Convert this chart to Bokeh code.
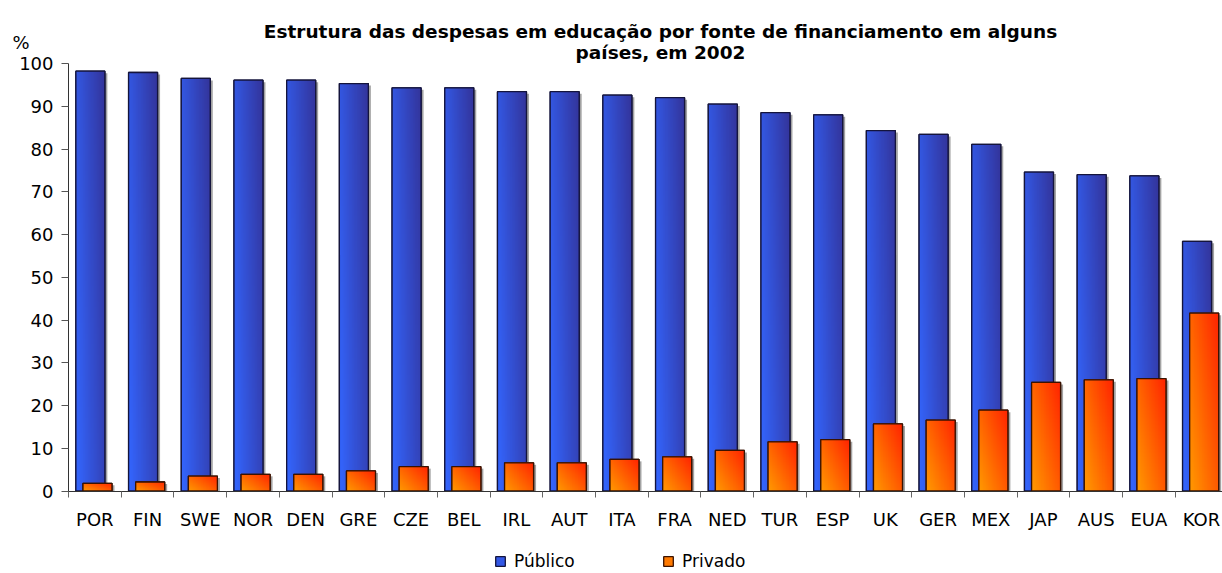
import numpy as np
from bokeh.plotting import figure
from bokeh.models import (Range1d, FixedTicker, Label, Legend, LegendItem,
                          ColumnDataSource)
from bokeh.embed import file_html
from bokeh.resources import INLINE

# ---------------- data ----------------
countries = ["POR", "FIN", "SWE", "NOR", "DEN", "GRE", "CZE", "BEL", "IRL", "AUT",
             "ITA", "FRA", "NED", "TUR", "ESP", "UK", "GER", "MEX", "JAP", "AUS",
             "EUA", "KOR"]
publico = [98.2, 97.9, 96.5, 96.1, 96.1, 95.3, 94.3, 94.3, 93.4, 93.4,
           92.6, 92.0, 90.5, 88.5, 88.0, 84.3, 83.4, 81.1, 74.6, 74.0,
           73.7, 58.4]
privado = [1.8, 2.1, 3.5, 3.9, 3.9, 4.7, 5.7, 5.7, 6.6, 6.6,
           7.4, 8.0, 9.5, 11.5, 12.0, 15.7, 16.6, 18.9, 25.4, 26.0,
           26.3, 41.6]
y_ticks = [0, 10, 20, 30, 40, 50, 60, 70, 80, 90, 100]
title_lines = ["Estrutura das despesas em educação por fonte de financiamento em alguns",
               "países, em 2002"]
series_names = ["Público", "Privado"]
unit_label = "%"

# ---------------- layout constants (pixels) ----------------
W, H = 1222, 573
AX_X = 68.0      # y-axis position on canvas
AX_Y = 490.5     # x-axis position on canvas
CAT_PX = 52.7    # width of one category
VAL_PX = 4.275   # pixels per percentage point

FONT = "DejaVu Sans"


def gradient(c0, c1, wu, wv, rows=80, cols=40):
    v = np.linspace(0, 1, rows)[:, None]
    u = np.linspace(0, 1, cols)[None, :]
    t = wu * u + wv * v
    img = np.empty((rows, cols), dtype=np.uint32)
    view = img.view(dtype=np.uint8).reshape((rows, cols, 4))
    for k in range(3):
        view[:, :, k] = np.round(c0[k] + (c1[k] - c0[k]) * t).astype(np.uint8)
    view[:, :, 3] = 255
    return img


grad_blue = gradient((51, 102, 255), (51, 51, 153), 0.7, 0.3)
grad_orange = gradient((255, 153, 0), (255, 34, 0), 0.55, 0.45)

n = len(countries)
BAR_W = 0.55
blue_off = 0.14
orange_off = 0.275
shadow_dx = 2.5 / CAT_PX
shadow_dy = 2.0 / VAL_PX

x_range = Range1d(-AX_X / CAT_PX, (W - AX_X) / CAT_PX)
y_range = Range1d(-(H - AX_Y) / VAL_PX, AX_Y / VAL_PX)

p = figure(width=W, height=H, output_backend="svg", toolbar_location=None,
           x_range=x_range, y_range=y_range, min_border=0)
p.outline_line_color = None
p.xgrid.visible = False
p.ygrid.visible = False
p.background_fill_color = "white"
p.border_fill_color = "white"


def draw_series(values, off, grad, solid, line_color):
    left = [i + off for i in range(n)]
    right = [l + BAR_W for l in left]
    # drop shadow
    p.quad(left=[l + shadow_dx for l in left], right=[r + shadow_dx for r in right],
           bottom=[0] * n, top=[max(v - shadow_dy, 0) for v in values],
           fill_color="#a3a3a3", line_color=None)
    # solid base (also used as the legend swatch)
    base = p.quad(left=left, right=right, bottom=[0] * n, top=values,
                  fill_color=solid, line_color=line_color, line_width=1.3)
    src = ColumnDataSource(dict(image=[grad] * n, x=left, y=[0] * n,
                                dw=[BAR_W] * n, dh=values))
    p.image_rgba(image="image", x="x", y="y", dw="dw", dh="dh", source=src)
    p.quad(left=left, right=right, bottom=[0] * n, top=values,
           fill_color=None, line_color=line_color, line_width=1.3)
    return base


rb = draw_series(publico, blue_off, grad_blue, "#3358e6", "#14143c")
ro = draw_series(privado, orange_off, grad_orange, "#ff7a00", "#3a1200")

legend = Legend(items=[LegendItem(label=series_names[0], renderers=[rb], index=0),
                       LegendItem(label=series_names[1], renderers=[ro], index=0)],
                orientation="horizontal", location=(494, 2), padding=0, margin=0,
                spacing=0, glyph_width=12, glyph_height=12, label_standoff=8,
                label_width=148, label_height=12,
                label_text_font=FONT, label_text_font_size="17px",
                label_text_color="black",
                border_line_alpha=0, background_fill_alpha=0)
p.add_layout(legend)

# y axis
ya = p.yaxis[0]
ya.fixed_location = 0
ya.bounds = (0, 100)
ya.ticker = FixedTicker(ticks=y_ticks)
ya.major_tick_out = 7
ya.major_tick_in = 0
ya.minor_tick_line_color = None
ya.major_label_standoff = 8
ya.major_label_text_font = FONT
ya.major_label_text_font_size = "18px"
ya.major_label_text_color = "black"
ya.axis_line_color = "#333333"
ya.major_tick_line_color = "#555555"

# x axis
xa = p.xaxis[0]
xa.fixed_location = 0
xa.bounds = (0, n)
centers = [i + 0.5 for i in range(n)]
xa.ticker = FixedTicker(ticks=centers, minor_ticks=list(range(n + 1)))
xa.major_label_overrides = {c: name for c, name in zip(centers, countries)}
xa.major_tick_line_color = None
xa.major_tick_out = 0
xa.major_tick_in = 0
xa.minor_tick_out = 6
xa.minor_tick_in = 0
xa.minor_tick_line_color = "#666666"
xa.major_label_standoff = 12
xa.major_label_text_font = FONT
xa.major_label_text_font_size = "18px"
xa.major_label_text_color = "black"
xa.axis_line_color = "#333333"


def px_to_x(px):
    return (px - AX_X) / CAT_PX


def px_to_y(py):
    return (AX_Y - py) / VAL_PX


# "%" unit label and title
p.add_layout(Label(x=px_to_x(12), y=px_to_y(42), text=unit_label, text_font=FONT,
                   text_font_size="18px", text_align="left",
                   text_baseline="alphabetic", text_color="black"))
p.add_layout(Label(x=px_to_x(660), y=px_to_y(31), text=title_lines[0], text_font=FONT,
                   text_font_size="18.5px", text_font_style="bold",
                   text_align="center", text_baseline="alphabetic",
                   text_color="black"))
p.add_layout(Label(x=px_to_x(660), y=px_to_y(52), text=title_lines[1], text_font=FONT,
                   text_font_size="18.5px", text_font_style="bold",
                   text_align="center", text_baseline="alphabetic",
                   text_color="black"))

open("out.html", "w").write(file_html(p, INLINE))
